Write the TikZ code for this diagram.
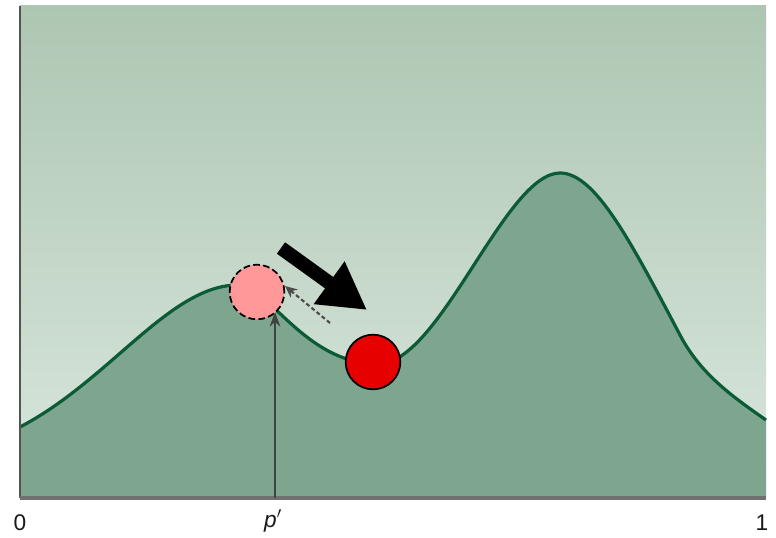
\documentclass[tikz,border=0pt]{standalone}
\usepackage{fontspec}
\setmainfont{Liberation Sans}
\usetikzlibrary{arrows.meta}
\definecolor{bgtop}{HTML}{ADC6B2}
\definecolor{bgbot}{HTML}{DAE7DE}
\definecolor{hill}{HTML}{7EA58E}
\definecolor{curveline}{HTML}{0B5C36}
\definecolor{pinkball}{HTML}{FF9999}
\definecolor{redball}{HTML}{E60000}
\definecolor{axisgray}{HTML}{707070}
\definecolor{axisdark}{HTML}{505550}
\tikzset{
  ball/.style={circle, draw=black, inner sep=0pt, minimum size=41pt, line width=1.3pt},
  lbl/.style={font=\fontsize{17}{17}\selectfont, text=black!90, inner sep=0pt},
  bigarrow/.style={line width=10.5pt, -{Triangle[length=35pt, width=37pt]}},
}
\begin{document}
\begin{tikzpicture}[x=0.75pt, y=-0.75pt]
\useasboundingbox (0,0) rectangle (776,538);
\fill[white] (0,0) rectangle (776,538);
% background gradient
\fill[top color=bgtop, bottom color=bgbot] (20,6) rectangle (766,498);
% hill fill
\fill[hill] (20,498) -- (20,427) .. controls (110,380) and (170,285) .. (238,285)
  .. controls (268,285) and (305,364) .. (378,364)
  .. controls (440,364) and (505,173) .. (560,173)
  .. controls (595,173) and (630,240) .. (680,335)
  .. controls (700,373) and (730,395) .. (766,420) -- (766,498) -- cycle;
\draw[curveline, line width=2.4pt] (20,427) .. controls (110,380) and (170,285) .. (238,285)
  .. controls (268,285) and (305,364) .. (378,364)
  .. controls (440,364) and (505,173) .. (560,173)
  .. controls (595,173) and (630,240) .. (680,335)
  .. controls (700,373) and (730,395) .. (766,420);
% axes
\coordinate (origin) at (20,498);
\coordinate (ytop) at (20,6);
\coordinate (xend) at (766,498);
\draw[axisdark, line width=2pt] (origin) -- (ytop);
\draw[axisgray, line width=2.4pt] (origin) -- (xend);
% vertical arrow at p'
\coordinate (pbase) at (275,498);
\coordinate (ptop) at (275,312);
\draw[axisdark!80!black, line width=1.6pt, -{Stealth[length=11pt, width=8pt]}] (pbase) -- (ptop);
% balls
\node[ball, fill=pinkball, dash pattern=on 5pt off 2.5pt] (pink) at (257,292) {};
\node[ball, fill=redball] (red) at (373,362) {};
% dashed small arrow
\coordinate (dstart) at (330,323);
\coordinate (dend) at (285,286);
\draw[black!70, line width=1.6pt, dash pattern=on 3pt off 2pt, -{Stealth[length=9pt, width=8pt]}] (dstart) -- (dend);
% big arrow
\coordinate (btail) at (281,248);
\coordinate (btip) at (367,310);
\draw[bigarrow] (btail) -- (btip);
% labels
\node[lbl] (l0) at (20,523) {0};
\node[lbl] (lp) at (273,521) {\textit{p}$'$};
\node[lbl] (l1) at (762,523) {1};
\end{tikzpicture}
\end{document}
